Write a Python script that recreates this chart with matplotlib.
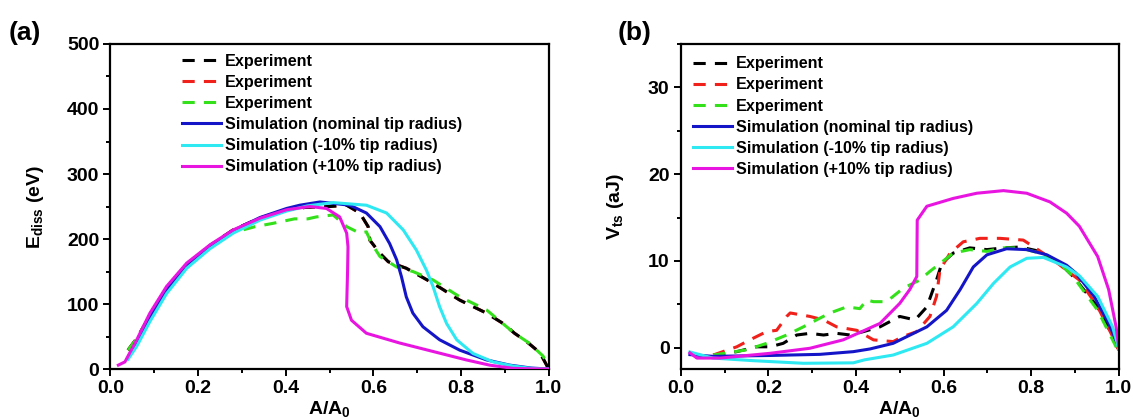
import matplotlib
matplotlib.use("Agg")
import matplotlib.pyplot as plt
from matplotlib.ticker import MultipleLocator, FormatStrFormatter

plt.rcParams['font.family'] = ['Liberation Sans', 'DejaVu Sans']
plt.rcParams['font.weight'] = 'bold'
plt.rcParams['mathtext.fontset'] = 'custom'
plt.rcParams['mathtext.rm'] = 'Liberation Sans:bold'
plt.rcParams['mathtext.it'] = 'Liberation Sans:bold'
plt.rcParams['mathtext.bf'] = 'Liberation Sans:bold'

# ---------------- panel (a): dissipated energy (eV) ----------------
a_blue_x = [0.04, 0.06, 0.09, 0.128, 0.174, 0.227, 0.28, 0.341, 0.402, 0.432, 0.478, 0.546, 0.584, 0.615,
            0.637, 0.653, 0.664, 0.675, 0.69, 0.713, 0.751, 0.797, 0.858, 0.911, 0.96, 1.0]
a_blue_y = [18, 40, 80, 122, 160, 189, 213, 233, 247, 252, 257, 252, 240, 219,
            193, 168, 142, 111, 86, 65, 45, 29, 14, 6, 1.5, 0]
a_cyan_x = [0.04, 0.06, 0.09, 0.128, 0.174, 0.227, 0.28, 0.341, 0.402, 0.45, 0.508, 0.584, 0.63, 0.668,
            0.698, 0.721, 0.736, 0.751, 0.767, 0.79, 0.827, 0.873, 0.919, 0.96, 1.0]
a_cyan_y = [15, 35, 73, 116, 155, 185, 209, 229, 243, 251, 256, 252, 240, 214,
            183, 152, 127, 96, 70, 45, 24, 11, 4.6, 1, 0]
a_mag_x = [0.018, 0.033, 0.06, 0.09, 0.128, 0.174, 0.227, 0.28, 0.341, 0.402, 0.455, 0.493, 0.523, 0.539,
           0.542, 0.541, 0.539, 0.55, 0.584, 0.66, 0.736, 0.812, 0.865, 0.919, 0.96, 1.0]
a_mag_y = [6, 11, 45, 86, 127, 163, 191, 214, 232, 245, 250, 247, 234, 209,
           188, 150, 96, 75, 55, 40, 27, 14, 6, 1, 0.3, 0]
a_blk_x = [0.04, 0.06, 0.09, 0.12, 0.17, 0.227, 0.28, 0.34, 0.40, 0.45, 0.50, 0.539, 0.569, 0.588,
           0.592, 0.615, 0.634, 0.675, 0.736, 0.797, 0.858, 0.896, 0.922, 0.95, 0.98, 1.0]
a_blk_y = [29, 47, 82, 113, 155, 190, 214, 232, 245, 249, 250, 252, 240, 219,
           198, 178, 165, 155, 132, 106, 86, 70, 55, 42, 25, 0]
a_grn_x = [0.04, 0.06, 0.09, 0.12, 0.17, 0.227, 0.28, 0.33, 0.37, 0.42, 0.45, 0.47, 0.508, 0.539,
           0.569, 0.584, 0.596, 0.615, 0.653, 0.69, 0.736, 0.797, 0.858, 0.904, 0.922, 0.955, 0.987, 1.0]
a_grn_y = [29, 47, 82, 113, 155, 190, 210, 219, 224, 231, 231, 234, 237, 219,
           209, 211, 193, 173, 157, 150, 137, 111, 91, 65, 55, 40, 20, 4]

# ---------------- panel (b): tip-sample potential (aJ) ----------------
b_blue_x = [0.021, 0.074, 0.204, 0.318, 0.394, 0.432, 0.485, 0.562, 0.607, 0.638, 0.668, 0.699, 0.744,
            0.79, 0.836, 0.881, 0.902, 0.944, 0.977, 1.0]
b_blue_y = [-0.8, -1.0, -0.9, -0.77, -0.46, -0.15, 0.5, 2.4, 4.3, 6.7, 9.3, 10.7, 11.4,
            11.3, 10.7, 9.5, 8.6, 5.9, 2.8, 0.1]
b_cyan_x = [0.021, 0.074, 0.166, 0.28, 0.394, 0.42, 0.485, 0.562, 0.622, 0.676, 0.714, 0.752, 0.79,
            0.828, 0.881, 0.91, 0.952, 0.986, 1.0]
b_cyan_y = [-0.5, -1.2, -1.5, -1.8, -1.75, -1.4, -0.85, 0.5, 2.4, 5.1, 7.4, 9.3, 10.3,
            10.4, 9.3, 8.3, 5.9, 2.4, -0.1]
b_mag_x = [0.021, 0.037, 0.09, 0.204, 0.295, 0.371, 0.42, 0.455, 0.5, 0.523, 0.539, 0.54, 0.562, 0.622,
           0.676, 0.737, 0.79, 0.843, 0.881, 0.91, 0.952, 0.977, 0.994, 1.0]
b_mag_y = [-0.6, -1.2, -1.2, -0.65, -0.07, 0.9, 2.0, 2.8, 5.1, 6.7, 8.2, 14.7, 16.3, 17.2,
           17.8, 18.1, 17.8, 16.8, 15.5, 14.0, 10.5, 6.7, 2.4, 0.1]
b_blk_x = [0.074, 0.128, 0.173, 0.204, 0.234, 0.265, 0.295, 0.326, 0.356, 0.387, 0.417, 0.455, 0.5,
           0.535, 0.562, 0.584, 0.596, 0.622, 0.66, 0.699, 0.737, 0.775, 0.82, 0.866, 0.896,
           0.952, 0.986, 1.0]
b_blk_y = [-0.85, -0.46, 0.1, 0.1, 0.5, 1.46, 1.65, 1.46, 1.65, 1.46, 1.85, 2.4, 3.6,
           3.2, 4.7, 7.8, 9.7, 10.9, 11.5, 11.3, 11.5, 11.6, 11.1, 9.7, 8.2,
           4.7, 1.3, -0.3]
b_red_x = [0.074, 0.128, 0.158, 0.196, 0.219, 0.242, 0.25, 0.295, 0.326, 0.356, 0.402, 0.44, 0.485,
           0.508, 0.539, 0.569, 0.584, 0.592, 0.615, 0.645, 0.683, 0.729, 0.782, 0.805, 0.851,
           0.889, 0.91, 0.952, 0.986, 1.0]
b_red_y = [-0.85, 0.1, 0.9, 1.85, 2.0, 3.6, 4.0, 3.6, 3.2, 2.4, 2.0, 0.9, 0.7,
           1.3, 1.85, 3.6, 5.9, 9.0, 10.9, 12.2, 12.6, 12.6, 12.4, 11.65, 10.1,
           8.6, 7.8, 4.7, 1.3, -0.3]
b_grn_x = [0.074, 0.151, 0.196, 0.242, 0.28, 0.31, 0.341, 0.379, 0.409, 0.425, 0.44, 0.47, 0.508,
           0.546, 0.569, 0.592, 0.622, 0.66, 0.699, 0.737, 0.775, 0.82, 0.866, 0.896, 0.952,
           0.986, 1.0]
b_grn_y = [-0.85, -0.25, 0.5, 1.46, 2.4, 3.2, 4.0, 4.7, 4.5, 5.5, 5.3, 5.3, 6.85,
           7.8, 8.8, 9.7, 10.9, 11.3, 11.1, 11.5, 11.5, 10.9, 9.7, 8.2, 4.3,
           0.9, -0.5]

labels = ['Experiment', 'Experiment', 'Experiment',
          'Simulation (nominal tip radius)', 'Simulation (-10% tip radius)',
          'Simulation (+10% tip radius)']
c_blk, c_red, c_grn = '#000000', '#F0201A', '#33E01A'
c_blue, c_cyan, c_mag = '#1515C8', '#2EE8F2', '#E815E0'

fig = plt.figure(figsize=(11.33, 4.19), dpi=100)
ax1 = fig.add_axes([0.0975, 0.1193, 0.3868, 0.7757])
ax2 = fig.add_axes([0.6008, 0.1193, 0.3866, 0.7757])

lw = 2.2
dash = (4, 3)


def style(ax):
    for s in ax.spines.values():
        s.set_linewidth(1.6)
    ax.tick_params(which='both', direction='out', width=1.4, labelsize=14,
                   top=False, right=False, pad=3)
    ax.tick_params(which='major', length=5)
    ax.tick_params(which='minor', length=3)
    ax.set_xlim(0, 1.0)
    ax.xaxis.set_major_locator(MultipleLocator(0.2))
    ax.xaxis.set_minor_locator(MultipleLocator(0.1))
    ax.xaxis.set_major_formatter(FormatStrFormatter('%.1f'))
    ax.set_xlabel('A/A$_0$', fontsize=14, fontweight='bold', labelpad=1)


def legend(ax, handles, anchor):
    ax.legend(handles, labels, frameon=False, loc='upper left', bbox_to_anchor=anchor,
              borderaxespad=0, borderpad=0, handlelength=2.4, handletextpad=0.28,
              labelspacing=0.38, prop={'weight': 'bold', 'size': 11.6})


# panel (a) - red experiment lies underneath black
l_red, = ax1.plot(a_blk_x, a_blk_y, color=c_red, lw=lw, dashes=dash, zorder=2)
l_blk, = ax1.plot(a_blk_x, a_blk_y, color=c_blk, lw=lw, dashes=dash, zorder=3)
l_grn, = ax1.plot(a_grn_x, a_grn_y, color=c_grn, lw=lw, dashes=dash, zorder=4)
l_blue, = ax1.plot(a_blue_x, a_blue_y, color=c_blue, lw=lw, zorder=5)
l_cyan, = ax1.plot(a_cyan_x, a_cyan_y, color=c_cyan, lw=lw, zorder=5)
l_mag, = ax1.plot(a_mag_x, a_mag_y, color=c_mag, lw=lw, zorder=6)
style(ax1)
ax1.set_ylim(0, 500)
ax1.yaxis.set_major_locator(MultipleLocator(100))
ax1.yaxis.set_minor_locator(MultipleLocator(50))
ax1.set_ylabel(r'E$_{\rm diss}$ (eV)', fontsize=14, fontweight='bold', labelpad=15)
legend(ax1, [l_blk, l_red, l_grn, l_blue, l_cyan, l_mag], (0.163, 0.97))

# panel (b)
h = []
h += ax2.plot(b_blk_x, b_blk_y, color=c_blk, lw=lw, dashes=dash)
h += ax2.plot(b_red_x, b_red_y, color=c_red, lw=lw, dashes=dash)
h += ax2.plot(b_grn_x, b_grn_y, color=c_grn, lw=lw, dashes=dash)
h += ax2.plot(b_blue_x, b_blue_y, color=c_blue, lw=lw)
h += ax2.plot(b_cyan_x, b_cyan_y, color=c_cyan, lw=lw)
h += ax2.plot(b_mag_x, b_mag_y, color=c_mag, lw=lw)
style(ax2)
ax2.set_ylim(-2.46, 35)
ax2.yaxis.set_major_locator(MultipleLocator(10))
ax2.yaxis.set_minor_locator(MultipleLocator(5))
ax2.set_ylabel(r'V$_{\rm ts}$ (aJ)', fontsize=14, fontweight='bold', labelpad=16)
legend(ax2, h, (0.028, 0.962))

fig.text(0.008, 0.905, '(a)', fontsize=19, fontweight='bold')
fig.text(0.545, 0.905, '(b)', fontsize=19, fontweight='bold')

fig.savefig('out.png', dpi=100)
